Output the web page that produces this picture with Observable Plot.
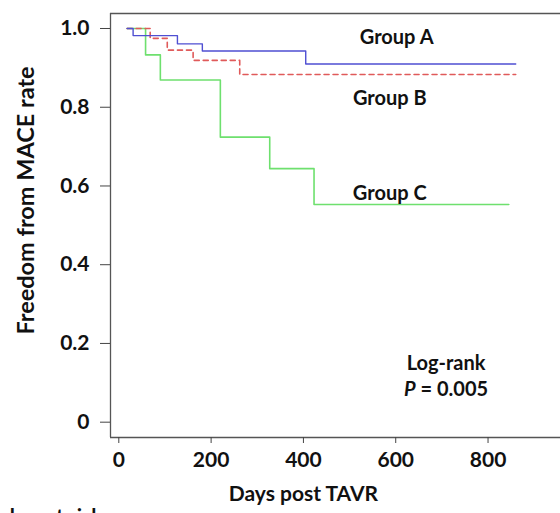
<!DOCTYPE html>
<html>
<head>
<meta charset="utf-8">
<script src="https://cdn.jsdelivr.net/npm/d3@7"></script>
<script src="https://cdn.jsdelivr.net/npm/@observablehq/plot@0.6"></script>
<style>
  html, body { margin: 0; padding: 0; background: #fff; }
  #chart svg { display: block; font-family: Lato, "Open Sans", sans-serif; }
</style>
</head>
<body>
<div id="chart"></div>
<script>
// Data
const groupA_days = [18, 31, 127, 181, 405, 860];
const groupA_surv = [1, 0.982, 0.961, 0.943, 0.910, 0.910];
const groupB_days = [18, 68, 105, 161, 262, 860];
const groupB_surv = [1, 0.975, 0.945, 0.919, 0.883, 0.883];
const groupC_days = [18, 58, 90, 220, 327, 423, 845];
const groupC_surv = [1, 0.933, 0.869, 0.724, 0.644, 0.553, 0.553];
const xTicks = [0, 200, 400, 600, 800];
const yTicks = [0, 0.2, 0.4, 0.6, 0.8, 1.0];
const groupLabels = ["Group A", "Group B", "Group C"];

const toRows = (days, surv) => days.map((d, i) => ({day: d, surv: surv[i]}));
const A = toRows(groupA_days, groupA_surv);
const B = toRows(groupB_days, groupB_surv);
const C = toRows(groupC_days, groupC_surv);

const xDom = [-18, 957];
const yDom = [-0.0389, 1.0381];

const labels = [
  {text: groupLabels[0], day: 602, surv: 0.976},
  {text: groupLabels[1], day: 587, surv: 0.823},
  {text: groupLabels[2], day: 587, surv: 0.581}
];

const FS = 20;

const chart = Plot.plot({
  width: 560,
  height: 513,
  marginLeft: 110,
  marginRight: 0,
  marginTop: 13,
  marginBottom: 76,
  style: {fontFamily: "Lato, 'Open Sans', sans-serif", background: "#fff", overflow: "visible"},
  x: {domain: xDom, ticks: xTicks, label: null},
  y: {domain: yDom, ticks: yTicks, label: null},
  marks: [
    // frame (right side extends beyond the view)
    Plot.ruleY([yDom[1]], {stroke: "#555", strokeWidth: 1.3}),
    Plot.ruleY([yDom[0]], {stroke: "#555", strokeWidth: 1.3}),
    Plot.ruleX([xDom[0]], {stroke: "#555", strokeWidth: 1.3}),
    Plot.axisX({ticks: xTicks, tickSize: 6, tickPadding: 9, fontSize: 21, fontWeight: "bold", fill: "#111", stroke: "#444", label: null}),
    Plot.axisY({ticks: yTicks, tickSize: 10, tickPadding: 11, fontSize: 21, fontWeight: "bold", fill: "#111", stroke: "#444", label: null,
      tickFormat: d => d === 0 ? "0" : d3.format(".1f")(d)}),
    Plot.line(C, {x: "day", y: "surv", curve: "step-after", stroke: "#6ee06e", strokeWidth: 1.6}),
    Plot.line(B, {x: "day", y: "surv", curve: "step-after", stroke: "#e05a5a", strokeWidth: 1.6, strokeDasharray: "5,4"}),
    Plot.line(A, {x: "day", y: "surv", curve: "step-after", stroke: "#4f4fd2", strokeWidth: 1.4}),
    Plot.text(labels, {x: "day", y: "surv", text: "text", fontSize: FS, fontWeight: "bold", fill: "#111"}),
    Plot.text(["Log-rank"], {x: 709, y: 0.148, text: d => d, fontSize: FS, fontWeight: "bold", fill: "#111"}),
    Plot.text(["P = 0.005"], {x: 709, y: 0.082, text: d => d, fontSize: FS, fontWeight: "bold", fill: "#111"}),
    Plot.text(["Days post TAVR"], {x: 400, frameAnchor: "bottom", dy: 63, text: d => d, fontSize: 21, fontWeight: "bold", fill: "#111"}),
    Plot.text(["Freedom from MACE rate"], {frameAnchor: "left", textAnchor: "middle", dx: -84, dy: -25, rotate: -90, text: d => d, fontSize: 23.5, fontWeight: "bold", fill: "#111"}),
    Plot.text(["Number at risk"], {frameAnchor: "bottom-left", dx: -8, dy: 86, textAnchor: "end", text: d => d, fontSize: 21, fontWeight: "bold", fill: "#111"})
  ]
});

// Italic P in the p-value
d3.select(chart).selectAll("text").each(function() {
  const t = d3.select(this);
  if (t.text() === "P = 0.005") {
    t.text(null);
    t.append("tspan").attr("font-style", "italic").text("P");
    t.append("tspan").text(" = 0.005");
  }
});

document.getElementById("chart").appendChild(chart);
</script>
</body>
</html>
